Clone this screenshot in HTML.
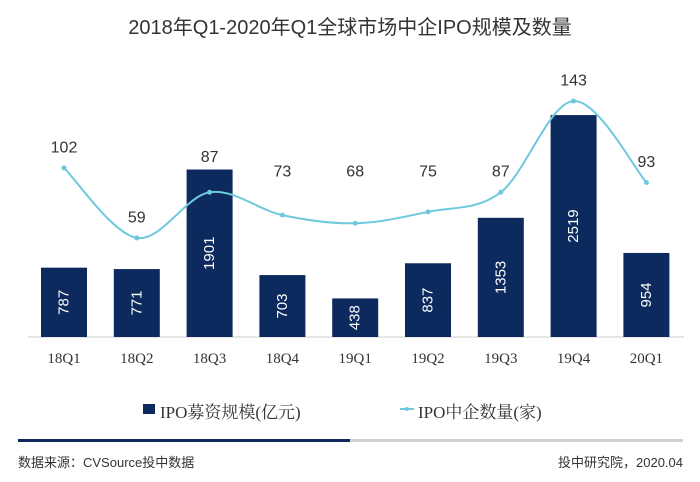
<!DOCTYPE html>
<html><head><meta charset="utf-8">
<style>
body{margin:0;background:#fff;}
svg{display:block;font-family:"Liberation Sans","Noto Sans CJK SC",sans-serif;}
</style></head>
<body>
<svg id="chart" width="700" height="482">
<text x="350" y="34" text-anchor="middle" font-size="20" fill="#333">2018年Q1-2020年Q1全球市场中企IPO规模及数量</text>
<line x1="28" y1="337" x2="684" y2="337" stroke="#ccc" stroke-width="1"/>
<g id="bars"></g>
<path id="line" fill="none" stroke="#6ec9dc" stroke-width="2"/>
<g id="pts"></g>
<g id="xlab"></g>
<g>
<rect x="143" y="404" width="12" height="10" fill="#0d2a5e"/>
<text x="160" y="418" font-size="17" fill="#333" font-family="Liberation Serif,'Noto Serif CJK SC',serif">IPO募资规模(亿元)</text>
<line x1="400" y1="409" x2="414" y2="409" stroke="#6ec9dc" stroke-width="2"/>
<circle cx="407" cy="409" r="2" fill="#6ec9dc"/>
<text x="418" y="418" font-size="17" fill="#333" font-family="Liberation Serif,'Noto Serif CJK SC',serif">IPO中企数量(家)</text>
</g>
<rect x="18" y="439" width="332" height="3" fill="#0d2a5e"/>
<rect x="350" y="439" width="333" height="3" fill="#d0d0d0"/>
<text x="18" y="467" font-size="13" fill="#333">数据来源：CVSource投中数据</text>
<text x="683" y="467" font-size="13" fill="#333" text-anchor="end">投中研究院，2020.04</text>
</svg>
<script>
const categories=["18Q1","18Q2","18Q3","18Q4","19Q1","19Q2","19Q3","19Q4","20Q1"];
const amounts=[787,771,1901,703,438,837,1353,2519,954];
const counts=[102,59,87,73,68,75,87,143,93];
const NS="http://www.w3.org/2000/svg";
const xPos=i=>64+i*72.8;
const yBar=v=>337-v*0.0881;
const yLine=v=>101+(143-v)*1.63;
function mk(tag,attrs,parent,txt){const e=document.createElementNS(NS,tag);for(const k in attrs)e.setAttribute(k,attrs[k]);if(txt!=null)e.textContent=txt;parent.appendChild(e);return e;}
const bars=document.getElementById('bars'),pts=document.getElementById('pts'),xl=document.getElementById('xlab');
categories.forEach((c,i)=>{
 const x=xPos(i),t=yBar(amounts[i]);
 const r=mk('rect',{x:x-23,y:t,width:46,height:337-t,fill:'#0d2a5e'},bars);
 
 
 const my=(t+337)/2;
 const tx=mk('text',{x:x,y:my,fill:'#fff','font-size':15,'text-anchor':'middle','dominant-baseline':'central',transform:`rotate(-90 ${x} ${my})`},bars,amounts[i]);
 
 
 const xt=mk('text',{x:x,y:363,'font-size':15,fill:'#333','text-anchor':'middle','font-family':'Liberation Serif,serif'},xl,c);
 
 
});
const P=counts.map((v,i)=>[xPos(i),yLine(v)]);
let d=`M${P[0][0]},${P[0][1]}`;
for(let i=0;i<P.length-1;i++){const p0=P[i-1]||P[i],p1=P[i],p2=P[i+1],p3=P[i+2]||p2;
 d+=` C${p1[0]+(p2[0]-p0[0])/6},${p1[1]+(p2[1]-p0[1])/6} ${p2[0]-(p3[0]-p1[0])/6},${p2[1]-(p3[1]-p1[1])/6} ${p2[0]},${p2[1]}`;}
document.getElementById('line').setAttribute('d',d);
P.forEach((p,i)=>{
 const c=mk('circle',{cx:p[0],cy:p[1],r:2.5,fill:'#6ec9dc'},pts);
 
 
 let ly=Math.min(p[1]-20,yBar(amounts[i])-12);
 if(p[1]<230) ly=Math.min(ly,172);
 const t=mk('text',{x:p[0],y:ly,'font-size':16,fill:'#333','text-anchor':'middle','dominant-baseline':'central'},pts,counts[i]);
 
 
});
</script>
</body></html>
